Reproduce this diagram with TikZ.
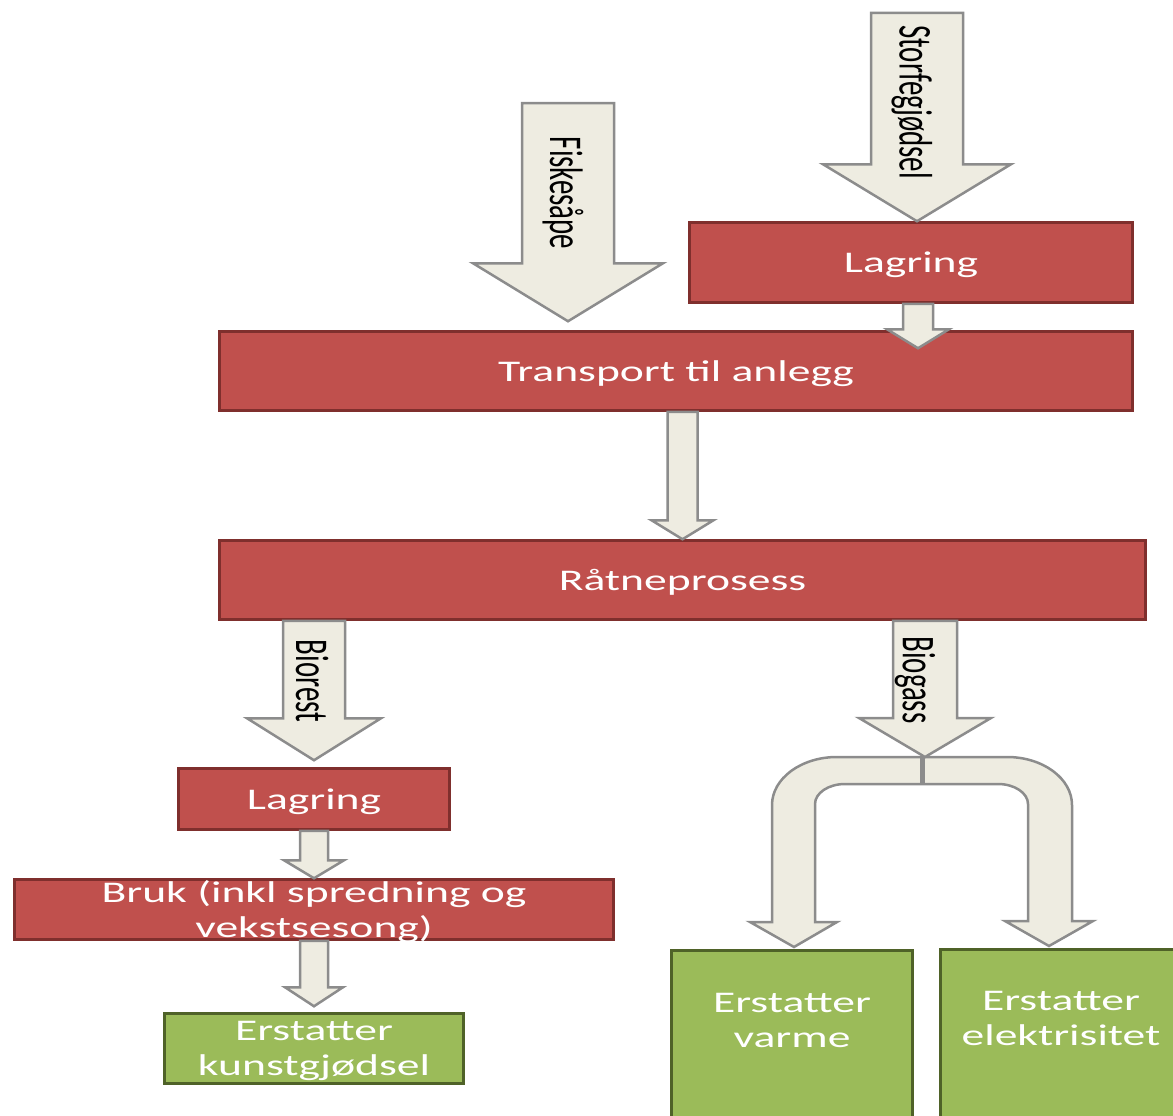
\documentclass[tikz,border=0pt]{standalone}
\usepackage{fontspec}
\usepackage{tikz}
\usetikzlibrary{calc}
\setmainfont{Carlito}
\newfontfamily\boxfont[FakeStretch=1.52]{Carlito}
\newfontfamily\arrowfont[FakeStretch=0.615]{Carlito}

\definecolor{boxred}{HTML}{C0504D}
\definecolor{boxredline}{HTML}{7F2F2D}
\definecolor{boxgreen}{HTML}{9BBB59}
\definecolor{boxgreenline}{HTML}{4F6228}
\definecolor{arrowfill}{HTML}{EEECE1}
\definecolor{arrowline}{HTML}{8C8C8C}

\tikzset{
  redbox/.style={draw=boxredline, fill=boxred, line width=2.5pt, text=white, text depth=0pt,
    font=\boxfont\fontsize{30}{35}\selectfont, align=center, inner sep=0pt},
  greenbox/.style={draw=boxgreenline, fill=boxgreen, line width=2.5pt, text=white, text depth=0pt,
    font=\boxfont\fontsize{30}{35}\selectfont, align=center, inner sep=0pt},
  boxtext/.style={text=white, font=\boxfont\fontsize{30}{35}\selectfont, align=center, inner sep=0pt},
  arrowshape/.style={draw=arrowline, fill=arrowfill, line width=2.5pt, line join=miter},
  arrowlabel/.style={rotate=-90, font=\arrowfont\fontsize{47}{50}\selectfont, inner sep=0pt}
}

% block arrow: tail point, tip point, shaft half width, head half width, head length
\newcommand{\blockarrow}[5]{%
  \draw[arrowshape] let \p1=#1, \p2=#2 in
    (\x1-#3pt,\y1) -- (\x1+#3pt,\y1) -- (\x1+#3pt,\y2+#5pt) -- (\x1+#4pt,\y2+#5pt)
    -- (\x1,\y2) -- (\x1-#4pt,\y2+#5pt) -- (\x1-#3pt,\y2+#5pt) -- cycle;}

\begin{document}
\begin{tikzpicture}[x=1pt,y=-1pt]
\useasboundingbox (0,0) rectangle (1173,1116);

%Shape: Rectangle [boxes]
\node[redbox, minimum width=443, minimum height=80] (lagA) at (911,262.5) {Lagring};
\node[redbox, minimum width=913, minimum height=79] (transp) at (676,371) {Transport til anlegg};
\node[redbox, minimum width=926, minimum height=79] (raatne) at (682.5,580) {Råtneprosess};
\node[redbox, minimum width=271, minimum height=61] (lagB) at (314,799) {Lagring};
\node[redbox, minimum width=599, minimum height=60] (bruk) at (314,909.5) {Bruk (inkl spredning og\\vekstsesong)};
\node[greenbox, minimum width=299, minimum height=70] (kunst) at (314,1048.5) {Erstatter\\kunstgjødsel};
\node[greenbox, minimum width=241, minimum height=180, anchor=north] (varme) at (792,949) {};
\node[greenbox, minimum width=241, minimum height=180, anchor=north] (elek) at (1061,948) {};

% Text Node
\node[boxtext] (varmetxt) at ([yshift=-71pt]varme.north) {Erstatter\\varme};
% Text Node
\node[boxtext] (elektxt) at ([yshift=-70pt]elek.north) {Erstatter\\elektrisitet};

%Shape: Split arrow
\draw[arrowshape] (794,947) -- (750,922) -- (772,922) -- (772,805)
  .. controls (772,778.5) and (801,757) .. (837,757) -- (1007,757)
  .. controls (1043,757) and (1072,778.5) .. (1072,805)
  -- (1072,921) -- (1093,921) -- (1049,946) -- (1005,921) -- (1028,921) -- (1028,804)
  .. controls (1028,793) and (1014.5,784) .. (998,784) -- (845,784)
  .. controls (828.5,784) and (815,793) .. (815,804) -- (815,922) -- (837,922) -- cycle;
\draw[arrowline, line width=5pt] (922,757) -- (922,784);

%Shape: Block arrows
\coordinate (storfetop) at (917,13);
\coordinate (fisktop) at (568,103);
\coordinate (split) at (925,757);
\blockarrow{(storfetop)}{(lagA.north)}{46}{94}{57}
\blockarrow{([xshift=7pt]lagA.south)}{([yshift=-18pt]transp.north)}{15}{31}{19}
\blockarrow{(fisktop)}{([yshift=9pt]transp.north)}{46}{95}{58}
\blockarrow{(raatne.north |- transp.south)}{(raatne.north)}{15}{31}{19}
\blockarrow{(lagB.north |- raatne.south)}{([yshift=7pt]lagB.north)}{31}{67}{42}
\blockarrow{(lagB.south)}{(bruk.north)}{14}{30}{18}
\blockarrow{(bruk.south)}{([yshift=6pt]kunst.north)}{14}{29}{19}
\blockarrow{(split |- raatne.south)}{(split)}{32}{66}{39}

% Text Node
\node[arrowlabel] (storfelbl) at (912,102) {Storfegjødsel};
% Text Node
\node[arrowlabel] (fisklbl) at (563,193) {Fiskesåpe};
% Text Node
\node[arrowlabel] (biorestlbl) at (312,681) {Biorest};
% Text Node
\node[arrowlabel] (biogasslbl) at (915,680) {Biogass};

\end{tikzpicture}
\end{document}
